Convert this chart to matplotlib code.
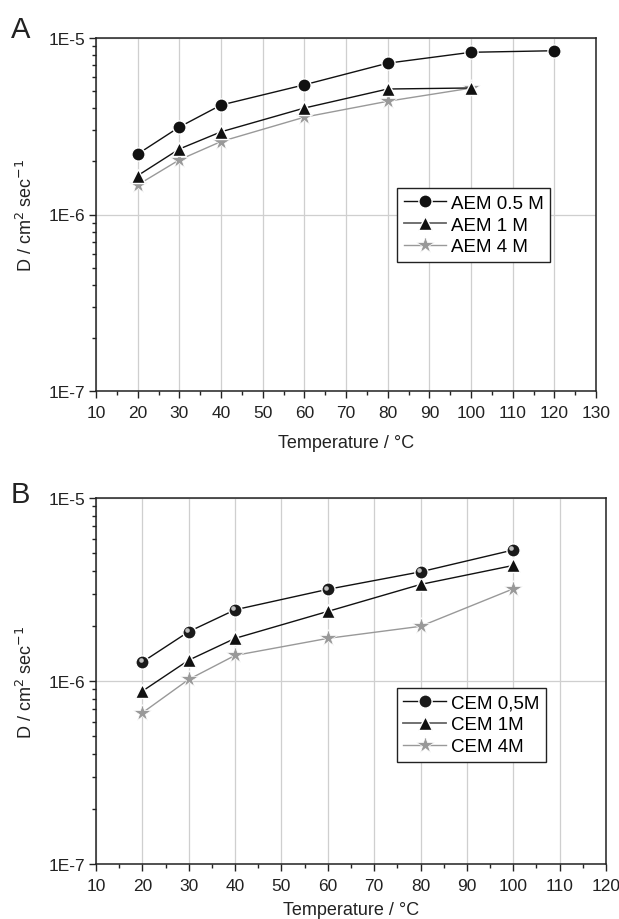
import matplotlib
matplotlib.use("Agg")
import matplotlib.pyplot as plt
from matplotlib.ticker import FixedLocator, FuncFormatter, LogLocator, NullFormatter, MultipleLocator
from matplotlib.transforms import ScaledTranslation
from matplotlib.lines import Line2D

plt.rcParams['font.family'] = ['Liberation Sans', 'DejaVu Sans']

# ---- Data ----
temp_aem_05 = [20, 30, 40, 60, 80, 100, 120]
d_aem_05 = [2.2e-6, 3.13e-6, 4.17e-6, 5.43e-6, 7.2e-6, 8.3e-6, 8.47e-6]
temp_aem_1 = [20, 30, 40, 60, 80, 100]
d_aem_1 = [1.66e-6, 2.35e-6, 2.94e-6, 4.01e-6, 5.14e-6, 5.21e-6]
temp_aem_4 = [20, 30, 40, 60, 80, 100]
d_aem_4 = [1.47e-6, 2.04e-6, 2.59e-6, 3.56e-6, 4.38e-6, 5.2e-6]

temp_cem = [20, 30, 40, 60, 80, 100]
d_cem_05 = [1.27e-6, 1.86e-6, 2.45e-6, 3.17e-6, 3.95e-6, 5.2e-6]
d_cem_1 = [8.8e-7, 1.30e-6, 1.71e-6, 2.4e-6, 3.37e-6, 4.28e-6]
d_cem_4 = [6.7e-7, 1.02e-6, 1.38e-6, 1.71e-6, 1.99e-6, 3.19e-6]

labels_a = ["AEM 0.5 M", "AEM 1 M", "AEM 4 M"]
labels_b = ["CEM 0,5M", "CEM 1M", "CEM 4M"]
ytick_vals = [1e-7, 1e-6, 1e-5]
ytick_labels = ["1E-7", "1E-6", "1E-5"]

fig = plt.figure(figsize=(6.19, 9.2), dpi=100)
W, H = 619, 920

def make_ax(l, r, t, b):
    return fig.add_axes([l / W, 1 - b / H, (r - l) / W, (b - t) / H])

axA = make_ax(96, 596, 39, 392)
axB = make_ax(96, 606, 499, 865)

c_black = '#111111'
c_mid = '#666666'
c_gray = '#999999'
c_text = '#222222'

def fmt(v, p):
    return ytick_labels[ytick_vals.index(min(ytick_vals, key=lambda t: abs(t - v)))]

def style(ax, xmax, ylab_x, xlab_y):
    ax.set_yscale('log')
    ax.set_ylim(1e-7, 1e-5)
    ax.set_xlim(10, xmax)
    ax.xaxis.set_major_locator(MultipleLocator(10))
    ax.xaxis.set_minor_locator(MultipleLocator(5))
    ax.yaxis.set_major_locator(FixedLocator(ytick_vals))
    ax.yaxis.set_major_formatter(FuncFormatter(fmt))
    ax.yaxis.set_minor_locator(LogLocator(base=10, subs=range(2, 10)))
    ax.yaxis.set_minor_formatter(NullFormatter())
    ax.grid(True, which='major', axis='both', color='#cfcfcf', linewidth=0.9, zorder=0)
    ax.set_axisbelow(True)
    ax.tick_params(axis='both', which='major', direction='out', length=5, width=1, labelsize=12.5,
                   color=c_text, labelcolor=c_text)
    ax.tick_params(axis='x', which='major', pad=5)
    ax.tick_params(axis='y', which='major', pad=3)
    ax.tick_params(axis='both', which='minor', direction='out', length=3, width=1, color=c_text)
    ax.tick_params(top=False, right=False)
    for s in ax.spines.values():
        s.set_linewidth(1.1)
        s.set_color(c_text)
    ax.set_xlabel("Temperature / °C", fontsize=13, color=c_text)
    ax.set_ylabel("D / cm$^2$ sec$^{-1}$", fontsize=13, color=c_text)
    ax.yaxis.set_label_coords(ylab_x, 0.5)
    ax.xaxis.set_label_coords(0.5, xlab_y)

style(axA, 130, (36 - 96) / 500, -(435 - 392) / 353)
style(axB, 120, (36 - 96) / 510, -(902 - 865) / 366)

kw = dict(markeredgecolor='white', markeredgewidth=1.0, zorder=3, clip_on=False)
star_kw = dict(markeredgecolor='white', markeredgewidth=0.5, zorder=3, clip_on=False)

def legend_handles(circle_face):
    return [
        Line2D([], [], color=c_black, lw=1, marker='o', ms=9.5, markerfacecolor=circle_face, markeredgecolor='white'),
        Line2D([], [], color=c_mid, lw=1.3, marker='^', ms=9.5, markerfacecolor=c_black, markeredgecolor='white'),
        Line2D([], [], color=c_gray, lw=1, marker='*', ms=13, markerfacecolor=c_gray, markeredgecolor='white', markeredgewidth=0.5),
    ]

leg_kw = dict(loc='upper left', fontsize=13.5, fancybox=False, edgecolor=c_text, framealpha=1,
              handlelength=2.25, borderpad=0.35, labelspacing=0.25, handletextpad=0.27, borderaxespad=0)

# Panel A
axA.plot(temp_aem_4, d_aem_4, color=c_gray, lw=1, marker='*', ms=13, markerfacecolor=c_gray, **star_kw)
axA.plot(temp_aem_1, d_aem_1, color=c_black, lw=1, marker='^', ms=9.5, markerfacecolor=c_black, **kw)
axA.plot(temp_aem_05, d_aem_05, color=c_black, lw=1, marker='o', ms=9.5, markerfacecolor=c_black, **kw)

legA = axA.legend(legend_handles(c_black), labels_a, bbox_to_anchor=(0.602, 0.575), **leg_kw)
legA.get_frame().set_linewidth(1.0)

# Panel B
axB.plot(temp_cem, d_cem_4, color=c_gray, lw=1, marker='*', ms=13, markerfacecolor=c_gray, **star_kw)
axB.plot(temp_cem, d_cem_1, color=c_black, lw=1, marker='^', ms=9.5, markerfacecolor=c_black, **kw)
axB.plot(temp_cem, d_cem_05, color=c_black, lw=1, marker='o', ms=9.5, markerfacecolor='#1a1a1a', **kw)
# sphere highlight
off = ScaledTranslation(-1.3 / 72, 1.3 / 72, fig.dpi_scale_trans)
axB.plot(temp_cem, d_cem_05, linestyle='none', marker='o', ms=3.3, markerfacecolor='#c0c0c0',
         markeredgecolor='none', zorder=4, transform=axB.transData + off, clip_on=False)

legB = axB.legend(legend_handles('#1a1a1a'), labels_b, bbox_to_anchor=(0.59, 0.481), **leg_kw)
legB.get_frame().set_linewidth(1.0)

fig.text(11 / W, 1 - 38 / H, "A", fontsize=21, va='baseline', ha='left', color=c_text)
fig.text(11 / W, 1 - 503 / H, "B", fontsize=21, va='baseline', ha='left', color=c_text)

fig.savefig("out.png", dpi=100)
